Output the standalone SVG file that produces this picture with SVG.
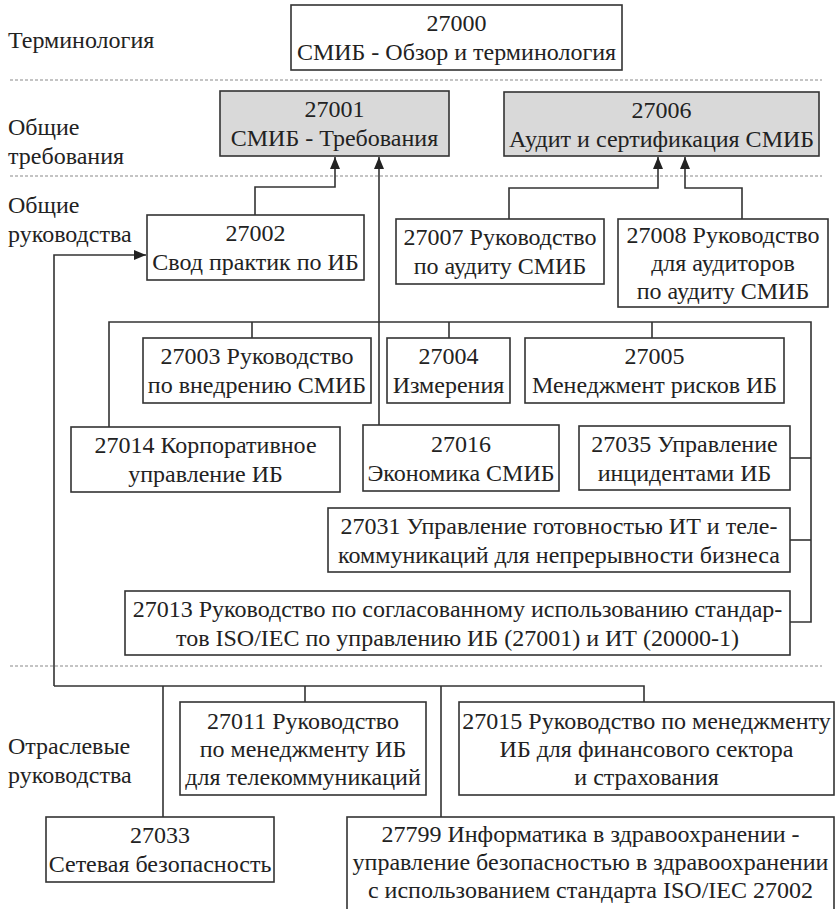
<svg xmlns="http://www.w3.org/2000/svg" width="837" height="909" viewBox="0 0 837 909">
<style>
.bg{fill:#fff}
.box{fill:#fff;stroke:#333;stroke-width:1.6}
.gray{fill:#d9d9d9;stroke:#333;stroke-width:1.6}
.t{font-family:"Liberation Serif","Times New Roman",serif;font-size:24px;fill:#222;text-anchor:middle}
.lbl{font-family:"Liberation Serif","Times New Roman",serif;font-size:24px;fill:#222;text-anchor:start}
.ln{fill:none;stroke:#333;stroke-width:1.6}
.dash{fill:none;stroke:#8a8a8a;stroke-width:1.2;stroke-dasharray:3 2}
</style>
<defs>
<marker id="ah" viewBox="0 0 12 10" refX="12" refY="5" markerWidth="12" markerHeight="10" markerUnits="userSpaceOnUse" orient="auto">
<path d="M0,0 L12,5 L0,10 Z" fill="#222"/>
</marker>
</defs>
<rect class="bg" x="0" y="0" width="837" height="909"/>

<g id="separators">
<line class="dash" x1="10" y1="80" x2="822" y2="80"/>
<line class="dash" x1="10" y1="176" x2="822" y2="176"/>
<line class="dash" x1="10" y1="666" x2="822" y2="666"/>
</g>

<g id="row-labels">
<text class="lbl" x="8" y="48">Терминология</text>
<text class="lbl" x="8" y="135">Общие</text>
<text class="lbl" x="8" y="164">требования</text>
<text class="lbl" x="8" y="213">Общие</text>
<text class="lbl" x="8" y="242">руководства</text>
<text class="lbl" x="8" y="754">Отраслевые</text>
<text class="lbl" x="8" y="783">руководства</text>
</g>

<g id="connectors">
<polyline class="ln" points="255,215 255,187 335,187 335,157" marker-end="url(#ah)"/>
<line class="ln" x1="379" y1="425" x2="379" y2="157" marker-end="url(#ah)"/>
<polyline class="ln" points="509,219 509,188 658,188 658,157" marker-end="url(#ah)"/>
<polyline class="ln" points="742,219 742,188 685,188 685,157" marker-end="url(#ah)"/>
<polyline class="ln" points="54,686 54,255 146,255" marker-end="url(#ah)"/>
<polyline class="ln" points="109,427 109,322 811,322 811,622 790,622"/>
<line class="ln" x1="252" y1="322" x2="252" y2="338"/>
<line class="ln" x1="449" y1="322" x2="449" y2="338"/>
<line class="ln" x1="652" y1="322" x2="652" y2="338"/>
<line class="ln" x1="790" y1="458" x2="811" y2="458"/>
<line class="ln" x1="790" y1="540" x2="811" y2="540"/>
<polyline class="ln" points="54,686 644,686 644,702"/>
<line class="ln" x1="163" y1="686" x2="163" y2="817"/>
<line class="ln" x1="305" y1="686" x2="305" y2="702"/>
<line class="ln" x1="441" y1="686" x2="441" y2="817"/>
</g>

<g id="n27000">
<rect class="box" x="291" y="5" width="331" height="65"/>
<text class="t" x="456.5" y="31">27000</text>
<text class="t" x="456.5" y="60">СМИБ - Обзор и терминология</text>
</g>
<g id="n27001">
<rect class="gray" x="220" y="91" width="229" height="65"/>
<text class="t" x="334.5" y="117">27001</text>
<text class="t" x="334.5" y="146">СМИБ - Требования</text>
</g>
<g id="n27006">
<rect class="gray" x="504" y="92" width="315" height="64"/>
<text class="t" x="661.5" y="117.5">27006</text>
<text class="t" x="661.5" y="146.5">Аудит и сертификация СМИБ</text>
</g>
<g id="n27002">
<rect class="box" x="147" y="215" width="217" height="65"/>
<text class="t" x="255.5" y="241">27002</text>
<text class="t" x="255.5" y="270">Свод практик по ИБ</text>
</g>
<g id="n27007">
<rect class="box" x="396" y="219" width="208" height="65"/>
<text class="t" x="500" y="245">27007 Руководство</text>
<text class="t" x="500" y="274">по аудиту СМИБ</text>
</g>
<g id="n27008">
<rect class="box" x="618" y="219" width="210" height="88"/>
<text class="t" x="723" y="243">27008 Руководство</text>
<text class="t" x="723" y="271">для аудиторов</text>
<text class="t" x="723" y="299">по аудиту СМИБ</text>
</g>
<g id="n27003">
<rect class="box" x="143" y="338" width="228" height="65"/>
<text class="t" x="257" y="364">27003 Руководство</text>
<text class="t" x="257" y="393">по внедрению СМИБ</text>
</g>
<g id="n27004">
<rect class="box" x="387" y="338" width="123" height="65"/>
<text class="t" x="448.5" y="364">27004</text>
<text class="t" x="448.5" y="393">Измерения</text>
</g>
<g id="n27005">
<rect class="box" x="525" y="338" width="259" height="65"/>
<text class="t" x="654.5" y="364">27005</text>
<text class="t" x="654.5" y="393">Менеджмент рисков ИБ</text>
</g>
<g id="n27014">
<rect class="box" x="71" y="427" width="269" height="65"/>
<text class="t" x="205.5" y="453">27014 Корпоративное</text>
<text class="t" x="205.5" y="482">управление ИБ</text>
</g>
<g id="n27016">
<rect class="box" x="363" y="425" width="196" height="66"/>
<text class="t" x="461" y="451.5">27016</text>
<text class="t" x="461" y="480.5">Экономика СМИБ</text>
</g>
<g id="n27035">
<rect class="box" x="579" y="426" width="211" height="64"/>
<text class="t" x="684.5" y="451.5">27035 Управление</text>
<text class="t" x="684.5" y="480.5">инцидентами ИБ</text>
</g>
<g id="n27031">
<rect class="box" x="328" y="508" width="462" height="64"/>
<text class="t" x="559" y="533.5">27031 Управление готовностью ИТ и теле-</text>
<text class="t" x="559" y="562.5">коммуникаций для непрерывности бизнеса</text>
</g>
<g id="n27013">
<rect class="box" x="125" y="591" width="665" height="64"/>
<text class="t" x="457.5" y="616.5">27013 Руководство по согласованному использованию стандар-</text>
<text class="t" x="457.5" y="645.5">тов ISO/IEC по управлению ИБ (27001) и ИТ (20000-1)</text>
</g>
<g id="n27011">
<rect class="box" x="180" y="702" width="246" height="93"/>
<text class="t" x="303" y="729">27011 Руководство</text>
<text class="t" x="303" y="757">по менеджменту ИБ</text>
<text class="t" x="303" y="785">для телекоммуникаций</text>
</g>
<g id="n27015">
<rect class="box" x="459" y="702" width="375" height="93"/>
<text class="t" x="646.5" y="729">27015 Руководство по менеджменту</text>
<text class="t" x="646.5" y="757">ИБ для финансового сектора</text>
<text class="t" x="646.5" y="785">и страхования</text>
</g>
<g id="n27033">
<rect class="box" x="46" y="817" width="228" height="65"/>
<text class="t" x="160" y="843">27033</text>
<text class="t" x="160" y="872">Сетевая безопасность</text>
</g>
<g id="n27799">
<rect class="box" x="347" y="817" width="487" height="95"/>
<text class="t" x="590.5" y="842">27799 Информатика в здравоохранении -</text>
<text class="t" x="590.5" y="870">управление безопасностью в здравоохранении</text>
<text class="t" x="590.5" y="898">с использованием стандарта ISO/IEC 27002</text>
</g>
</svg>
